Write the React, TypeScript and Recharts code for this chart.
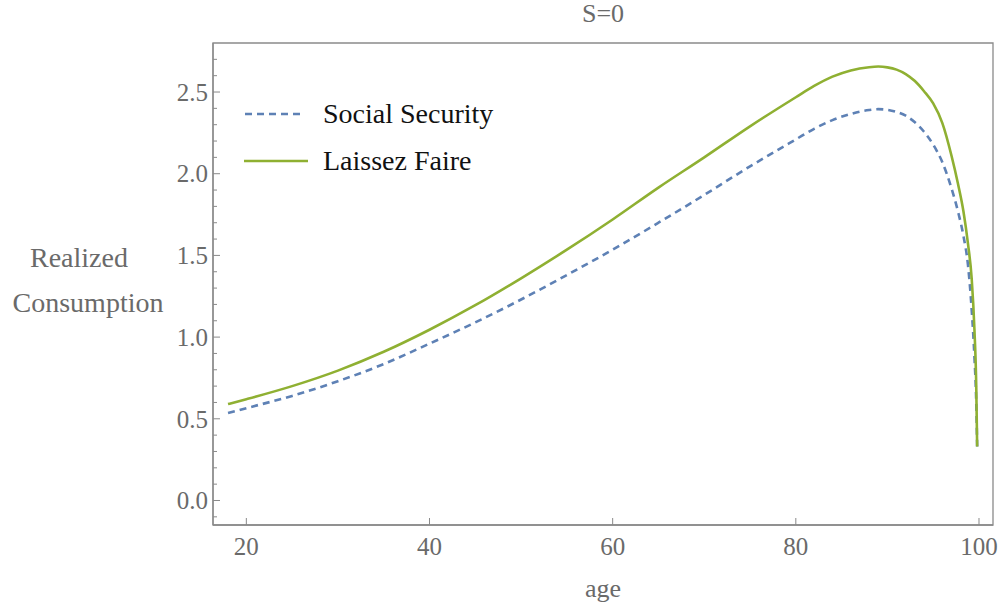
// App.tsx
import { LineChart, Line, XAxis, YAxis, Legend, ReferenceArea } from 'recharts';

// ages (denser near the peak and the final drop)
const ages = [18, 20, 25, 30, 35, 40, 45, 50, 55, 60, 65, 70, 75, 80, 82, 84, 86, 88, 89, 90, 91, 92, 93, 94, 95, 96, 97, 97.7, 98.3, 98.8, 99.2, 99.5, 99.7, 99.8];

// Social Security (dashed blue)
const socialSecurity = [0.535, 0.565, 0.64, 0.73, 0.835, 0.96, 1.09, 1.23, 1.38, 1.535, 1.7, 1.87, 2.045, 2.21, 2.275, 2.328, 2.366, 2.39, 2.395, 2.391, 2.378, 2.355, 2.315, 2.257, 2.178, 2.07, 1.91, 1.77, 1.62, 1.44, 1.17, 0.88, 0.6, 0.33];

// Laissez Faire (solid green)
const laissezFaire = [0.59, 0.62, 0.7, 0.795, 0.91, 1.045, 1.195, 1.36, 1.535, 1.72, 1.915, 2.1, 2.29, 2.468, 2.537, 2.594, 2.632, 2.652, 2.656, 2.651, 2.637, 2.61, 2.567, 2.505, 2.43, 2.31, 2.11, 1.94, 1.77, 1.57, 1.36, 1.05, 0.7, 0.33];

const seriesNames = ['Social Security', 'Laissez Faire'];
const xTicks = [20, 40, 60, 80, 100];
const yTicks = [-0.1, 0, 0.1, 0.2, 0.3, 0.4, 0.5, 0.6, 0.7, 0.8, 0.9, 1, 1.1, 1.2, 1.3, 1.4, 1.5, 1.6, 1.7, 1.8, 1.9, 2, 2.1, 2.2, 2.3, 2.4, 2.5, 2.6, 2.7];
const yMajor = [0, 0.5, 1, 1.5, 2, 2.5];

const X_DOMAIN = [16.36, 101.53];
const Y_DOMAIN = [-0.15, 2.8];

const data = ages.map((age, i) => ({ age, ss: socialSecurity[i], lf: laissezFaire[i] }));

const FONT = '"Liberation Serif", "DejaVu Serif", serif';
const BLUE = '#5e81b5';
const GREEN = '#8fb032';
const FRAME = '#8a8a8a';
const LABEL = '#6a6a6a';

const YTick = ({ x, y, payload }: any) => {
  const v = payload.value;
  const major = yMajor.some(m => Math.abs(m - v) < 1e-6);
  return (
    <g>
      <line x1={x} y1={y} x2={x + (major ? 7 : 4)} y2={y} stroke={FRAME} strokeWidth={1} />
      {major && (
        <text x={x - 5} y={y} dy="0.35em" textAnchor="end" fill={LABEL} fontSize={25} fontFamily={FONT}>
          {v.toFixed(1)}
        </text>
      )}
    </g>
  );
};

const XTick = ({ x, y, payload }: any) => (
  <g>
    <line x1={x} y1={y} x2={x} y2={y - 7} stroke={FRAME} strokeWidth={1} />
    <text x={x} y={y + 30} textAnchor="middle" fill={LABEL} fontSize={25} fontFamily={FONT}>
      {payload.value}
    </text>
  </g>
);

const LegendBox = () => (
  <svg width={360} height={100} style={{ overflow: 'visible', display: 'block' }}>
    <line x1={3} y1={14} x2={63} y2={14} stroke={BLUE} strokeWidth={2.6} strokeDasharray="7 5" />
    <text x={81} y={23} fill="#111" fontSize={28} fontFamily={FONT}>{seriesNames[0]}</text>
    <line x1={2} y1={61} x2={66} y2={61} stroke={GREEN} strokeWidth={2.6} />
    <text x={81} y={70} fill="#111" fontSize={28} fontFamily={FONT}>{seriesNames[1]}</text>
  </svg>
);

export default function App() {
  return (
    <div style={{ position: 'absolute', left: 0, top: 0, width: 999, height: 611, background: '#fff' }}>
      <div
        style={{
          position: 'absolute', left: 553, top: -1, width: 100, textAlign: 'center',
          fontFamily: FONT, fontSize: 26, lineHeight: '30px', color: LABEL
        }}
      >
        S=0
      </div>
      <LineChart width={999} height={611} data={data} margin={{ top: 43, right: 6, bottom: 0, left: 0 }}>
        <XAxis
          dataKey="age"
          type="number"
          domain={X_DOMAIN}
          allowDataOverflow
          ticks={xTicks}
          height={86}
          tickSize={0}
          tickMargin={0}
          tickLine={false}
          tick={<XTick />}
          axisLine={{ stroke: FRAME, strokeWidth: 1.3 }}
          label={{ value: 'age', position: 'insideBottom', offset: 14, fill: LABEL, fontSize: 26, fontFamily: FONT }}
        />
        <YAxis
          type="number"
          domain={Y_DOMAIN}
          allowDataOverflow
          ticks={yTicks}
          interval={0}
          width={213}
          tickSize={0}
          tickMargin={0}
          tickLine={false}
          tick={<YTick />}
          axisLine={{ stroke: FRAME, strokeWidth: 1.3 }}
          label={{
            content: () => (
              <g>
                <text x={79} y={267} textAnchor="middle" fill={LABEL} fontSize={28} fontFamily={FONT}>Realized</text>
                <text x={88} y={312} textAnchor="middle" fill={LABEL} fontSize={28} fontFamily={FONT}>Consumption</text>
              </g>
            )
          }}
        />
        <ReferenceArea
          x1={X_DOMAIN[0]}
          x2={X_DOMAIN[1]}
          y1={Y_DOMAIN[0]}
          y2={Y_DOMAIN[1]}
          ifOverflow="visible"
          fill="none"
          stroke={FRAME}
          strokeWidth={1.3}
        />
        <Legend
          layout="vertical"
          align="center"
          verticalAlign="middle"
          content={() => <LegendBox />}
          wrapperStyle={{ left: 242, top: 100, width: 360, height: 100, overflow: 'visible' }}
        />
        <Line
          type="monotone"
          dataKey="ss"
          name={seriesNames[0]}
          stroke={BLUE}
          strokeWidth={2.6}
          strokeDasharray="7 5"
          dot={false}
          isAnimationActive={false}
        />
        <Line
          type="monotone"
          dataKey="lf"
          name={seriesNames[1]}
          stroke={GREEN}
          strokeWidth={2.6}
          dot={false}
          isAnimationActive={false}
        />
      </LineChart>
    </div>
  );
}
